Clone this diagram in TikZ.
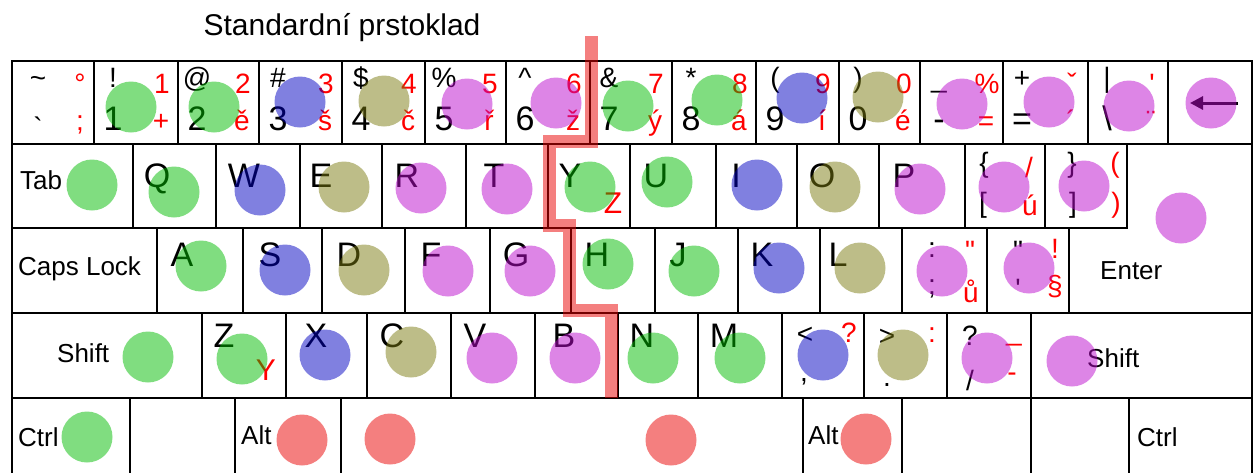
\documentclass[tikz,border=0pt]{standalone}
\usepackage{fontspec}
\setmainfont{Liberation Sans}[Ligatures=TeXOff]
\usetikzlibrary{arrows.meta}
\definecolor{fgreen}{HTML}{01BB01}
\definecolor{fblue}{HTML}{0101C1}
\definecolor{folive}{HTML}{7B7B11}
\definecolor{fpink}{HTML}{BB0BCD}
\definecolor{fred}{HTML}{E90000}
\definecolor{czred}{HTML}{FF0000}

\begin{document}
\begin{tikzpicture}[x=1pt, y=-1pt,
  keyline/.style={line width=2pt, line cap=rect},
  sym/.style={anchor=base, inner sep=0pt, font=\fontsize{28}{28}\selectfont},
  big/.style={anchor=base, inner sep=0pt, font=\fontsize{34}{34}\selectfont},
  cz/.style={sym, text=czred},
  czbig/.style={cz, font=\fontsize{30}{30}\selectfont},
  keyname/.style={anchor=base west, inner sep=0pt, font=\fontsize{26}{26}\selectfont},
  finger/.style={fill=#1, fill opacity=.5},
]
\useasboundingbox (0,0) rectangle (1260,472);
\clip (0,0) rectangle (1260,472);

\node[anchor=base, inner sep=0pt, font=\fontsize{30}{30}\selectfont] (title) at (342,35) {Standardní prstoklad};

% key outlines
\draw[keyline] (12,480) -- (12,61) -- (1252,61) -- (1252,480);
\draw[keyline] (12,144) -- (1252,144) (12,228) -- (1127,228);
\draw[keyline] (12,313) -- (1252,313) (12,398) -- (1252,398);
\foreach \x in {94,178,259,342,425,506,590,672,756,839,920,1003,1088,1168}
  \draw[keyline] (\x,61) -- (\x,144);
\foreach \x in {133,216,300,382,466,548,630,716,797,879,965,1045,1127}
  \draw[keyline] (\x,144) -- (\x,228);
\foreach \x in {157,243,322,405,490,571,655,738,820,902,987,1069}
  \draw[keyline] (\x,228) -- (\x,313);
\foreach \x in {202,286,367,451,535,618,698,782,864,947,1031}
  \draw[keyline] (\x,313) -- (\x,398);
\foreach \x in {130,235,341,803,902,1031,1129}
  \draw[keyline] (\x,398) -- (\x,480);

% number row
\node[sym] (tilde) at (38,87) {\textasciitilde};
\node[sym] (grave) at (38,137) {`};
\node[cz] (degree) at (80,93) {°};
\node[cz] (semic) at (80,130) {;};
\foreach \l/\r/\up/\lo/\rup/\rlo in {94/178/!/1/1/+, 178/259/@/2/2/ě, 259/342/\#/3/3/š,
    342/425/\$/4/4/č, 425/506/\%/5/5/ř, 506/590/\textasciicircum/6/6/ž, 590/672/\&/7/7/ý,
    672/756/*/8/8/á, 756/839/(/9/9/í, 839/920/)/0/0/é, 920/1003/\_/-/\%/=,
    1003/1088/+/=/ˇ/´, 1088/1168/|/\textbackslash/'/¨}
{
  \node[sym] (up\l) at (\l+19,87) {\up};
  \node[big] (lo\l) at (\l+19,130) {\lo};
  \node[cz] (rup\l) at (\r-16,93) {\rup};
  \node[cz] (rlo\l) at (\r-17,130) {\rlo};
}
\coordinate (bs) at (1238,103);
\coordinate (bsend) at (1190,103);
\draw[line width=3pt, -{Triangle[length=13pt,width=13pt]}] (bs) -- (bsend);

% top letter row
\node[keyname] (tab) at (20,189) {Tab};
\foreach \x/\t in {157/Q, 244/W, 321/E, 407/R, 494/T, 570/Y, 656/U, 736/I, 822/O, 904/P}
  \node[big] (k\t) at (\x,187) {\t};
\node[czbig] (zony) at (613,213) {Z};
\node[sym] (lbrace) at (984,172) {\{};
\node[sym] (lbrack) at (983,212) {[};
\node[cz] (slash) at (1029,177) {/};
\node[cz] (uacute) at (1030,215) {ú};
\node[sym] (rbrace) at (1072,172) {\}};
\node[sym] (rbrack) at (1073,212) {]};
\node[cz] (lparen) at (1115,172) {(};
\node[cz] (rparen) at (1116,212) {)};

% home row
\node[keyname] (caps) at (18,275) {Caps Lock};
\foreach \x/\t in {182/A, 270/S, 349/D, 431/F, 516/G, 597/H, 678/J, 762/K, 838/L}
  \node[big] (k\t) at (\x,266) {\t};
\node[sym] (colon) at (932,257) {:};
\node[sym] (semi) at (932,294) {;};
\node[cz] (dquote) at (970,260) {"};
\node[cz] (uring) at (971,302) {ů};
\node[sym] (dq) at (1018,260) {"};
\node[sym] (sq) at (1018,298) {'};
\node[cz] (excl) at (1055,258) {!};
\node[cz] (sect) at (1055,295) {§};
\node[keyname] (enter) at (1100,279) {Enter};

% bottom letter row
\node[keyname] (lshift) at (57,362) {Shift};
\foreach \x/\t in {224/Z, 316/X, 392/C, 475/V, 564/B, 642/N, 724/M}
  \node[big] (k\t) at (\x,347) {\t};
\node[czbig] (yonz) at (266,380) {Y};
\node[sym] (lt) at (805,343) {<};
\node[sym] (comma) at (804,381) {,};
\node[cz] (quest) at (849,342) {?};
\node[sym] (gt) at (887,345) {>};
\node[sym] (dot) at (887,386) {.};
\node[cz] (rcolon) at (932,342) {:};
\node[sym] (qm) at (970,345) {?};
\node[sym] (sl) at (970,390) {/};
\node[cz] (under) at (1014,340) {\_};
\node[cz] (hyph) at (1012,381) {-};
\node[keyname] (rshift) at (1087,367) {Shift};

% space row
\node[keyname] (lctrl) at (18,446) {Ctrl};
\node[keyname] (lalt) at (241,444) {Alt};
\node[keyname] (ralt) at (808,444) {Alt};
\node[keyname] (rctrl) at (1137,446) {Ctrl};

% fingers
\foreach \x/\y/\c in {131/107/fgreen, 214/107/fgreen, 300/102/fblue, 384/101/folive,
    467/104/fpink, 556/103/fpink, 628/106/fgreen, 717/100/fgreen, 802/98/fblue,
    878/97/folive, 962/104/fpink, 1049/102/fpink, 1129/106/fpink, 1211/103/fpink,
    92/185/fgreen, 174/192/fgreen, 260/190/fblue, 344/187/folive, 421/188/fpink,
    507/189/fpink, 590/187/fgreen, 667/182/fgreen, 757/185/fblue, 835/187/folive,
    920/189/fpink, 1004/187/fpink, 1084/186/fpink, 1181/218/fpink,
    201/266/fgreen, 285/270/fblue, 364/270/folive, 448/271/fpink, 530/271/fpink,
    608/264/fgreen, 694/271/fgreen, 779/268/fblue, 860/268/folive, 942/271/fpink,
    1029/268/fpink,
    148/357/fgreen, 242/359/fgreen, 325/355/fblue, 411/352/folive, 492/358/fpink,
    575/358/fpink, 653/358/fgreen, 740/358/fgreen, 823/355/fblue, 903/355/folive,
    987/358/fpink, 1072/361/fpink,
    87/437/fgreen, 302/440/fred, 390/439/fred, 671/440/fred, 866/439/fred}
  \fill[finger=\c] (\x,\y) circle[radius=25.5pt];

% hand border
\draw[fred, draw opacity=.5, line width=13pt] (591,36) -- (591,141) -- (549,141)
  -- (549,225) -- (569,225) -- (569,310) -- (611,310) -- (611,398);

\end{tikzpicture}
\end{document}
